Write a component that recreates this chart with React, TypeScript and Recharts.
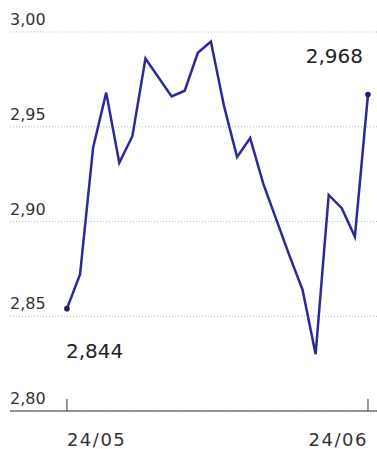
import React from 'react';
import { LineChart, Line, XAxis, YAxis, CartesianGrid, LabelList } from 'recharts';

const dayIndex = [0, 1, 2, 3, 4, 5, 6, 7, 8, 9, 10, 11, 12, 13, 14, 15, 16, 17, 18, 19, 20, 21, 22, 23];
const rates = [2.854, 2.872, 2.939, 2.968, 2.931, 2.945, 2.986, 2.976, 2.966, 2.969, 2.989, 2.995, 2.961, 2.934, 2.944, 2.920, 2.901, 2.882, 2.864, 2.830, 2.914, 2.907, 2.892, 2.967];
const endLabels = ['2,844', '2,968'];
const xTickValues = [0, 23];
const xTickLabels = ['24/05', '24/06'];
const yTickValues = [2.80, 2.85, 2.90, 2.95, 3.00];
const yTickLabels = ['2,80', '2,85', '2,90', '2,95', '3,00'];

const data = dayIndex.map((d, i) => ({ d, v: rates[i] }));

const FONT = '"DejaVu Sans", sans-serif';

const XTick = (props: any) => {
  const { x, y, payload } = props;
  const i = xTickValues.indexOf(payload.value);
  const first = i === 0;
  return (
    <g>
      <line x1={x} x2={x} y1={y - 12} y2={y} stroke="#333" strokeWidth={1} />
      <text x={x} y={y + 35} textAnchor={first ? 'start' : 'end'} fontSize={18} fill="#333" fontFamily={FONT} letterSpacing={1.5}>
        {xTickLabels[i]}
      </text>
    </g>
  );
};

const YTick = (props: any) => {
  const { y, payload } = props;
  const i = yTickValues.findIndex((t) => Math.abs(t - payload.value) < 1e-6);
  return (
    <text x={10} y={y - 7} textAnchor="start" fontSize={16} fill="#333" fontFamily={FONT}>
      {yTickLabels[i]}
    </text>
  );
};

const EndDot = (props: any) => {
  const { cx, cy, index } = props;
  if (index !== 0 && index !== data.length - 1) return <g key={index} />;
  return <circle key={index} cx={cx} cy={cy} r={2.8} fill="#1d1c6e" />;
};

const EndLabel = (props: any) => {
  const { x, y, index } = props;
  if (index === 0) {
    return (
      <text x={x - 1} y={y + 49} textAnchor="start" fontSize={20} fill="#222" fontFamily={FONT}>
        {endLabels[0]}
      </text>
    );
  }
  if (index === data.length - 1) {
    return (
      <text x={x - 5} y={y - 32} textAnchor="end" fontSize={20} fill="#222" fontFamily={FONT}>
        {endLabels[1]}
      </text>
    );
  }
  return null;
};

export default function App() {
  return (
    <div style={{ position: 'absolute', left: 0, top: 0, background: '#fff' }}>
      <LineChart width={377} height={449} data={data} margin={{ top: 32, right: 0, bottom: 0, left: 9 }}>
        <CartesianGrid horizontal vertical={false} stroke="#b8b8b8" strokeDasharray="1 2" />
        <XAxis
          dataKey="d"
          type="number"
          domain={[-4.35, 23.69]}
          ticks={xTickValues}
          tick={<XTick />}
          tickLine={false}
          tickSize={0}
          tickMargin={0}
          axisLine={{ stroke: '#333', strokeWidth: 1 }}
          height={38}
          interval={0}
        />
        <YAxis
          type="number"
          domain={[2.8, 3.0]}
          ticks={yTickValues}
          tick={<YTick />}
          axisLine={false}
          tickLine={false}
          tickSize={0}
          tickMargin={0}
          width={1}
          interval={0}
        />
        <Line
          type="linear"
          dataKey="v"
          stroke="#2b2a96"
          strokeWidth={2.5}
          dot={<EndDot />}
          activeDot={false}
          isAnimationActive={false}
        >
          <LabelList dataKey="v" content={<EndLabel />} />
        </Line>
      </LineChart>
    </div>
  );
}
